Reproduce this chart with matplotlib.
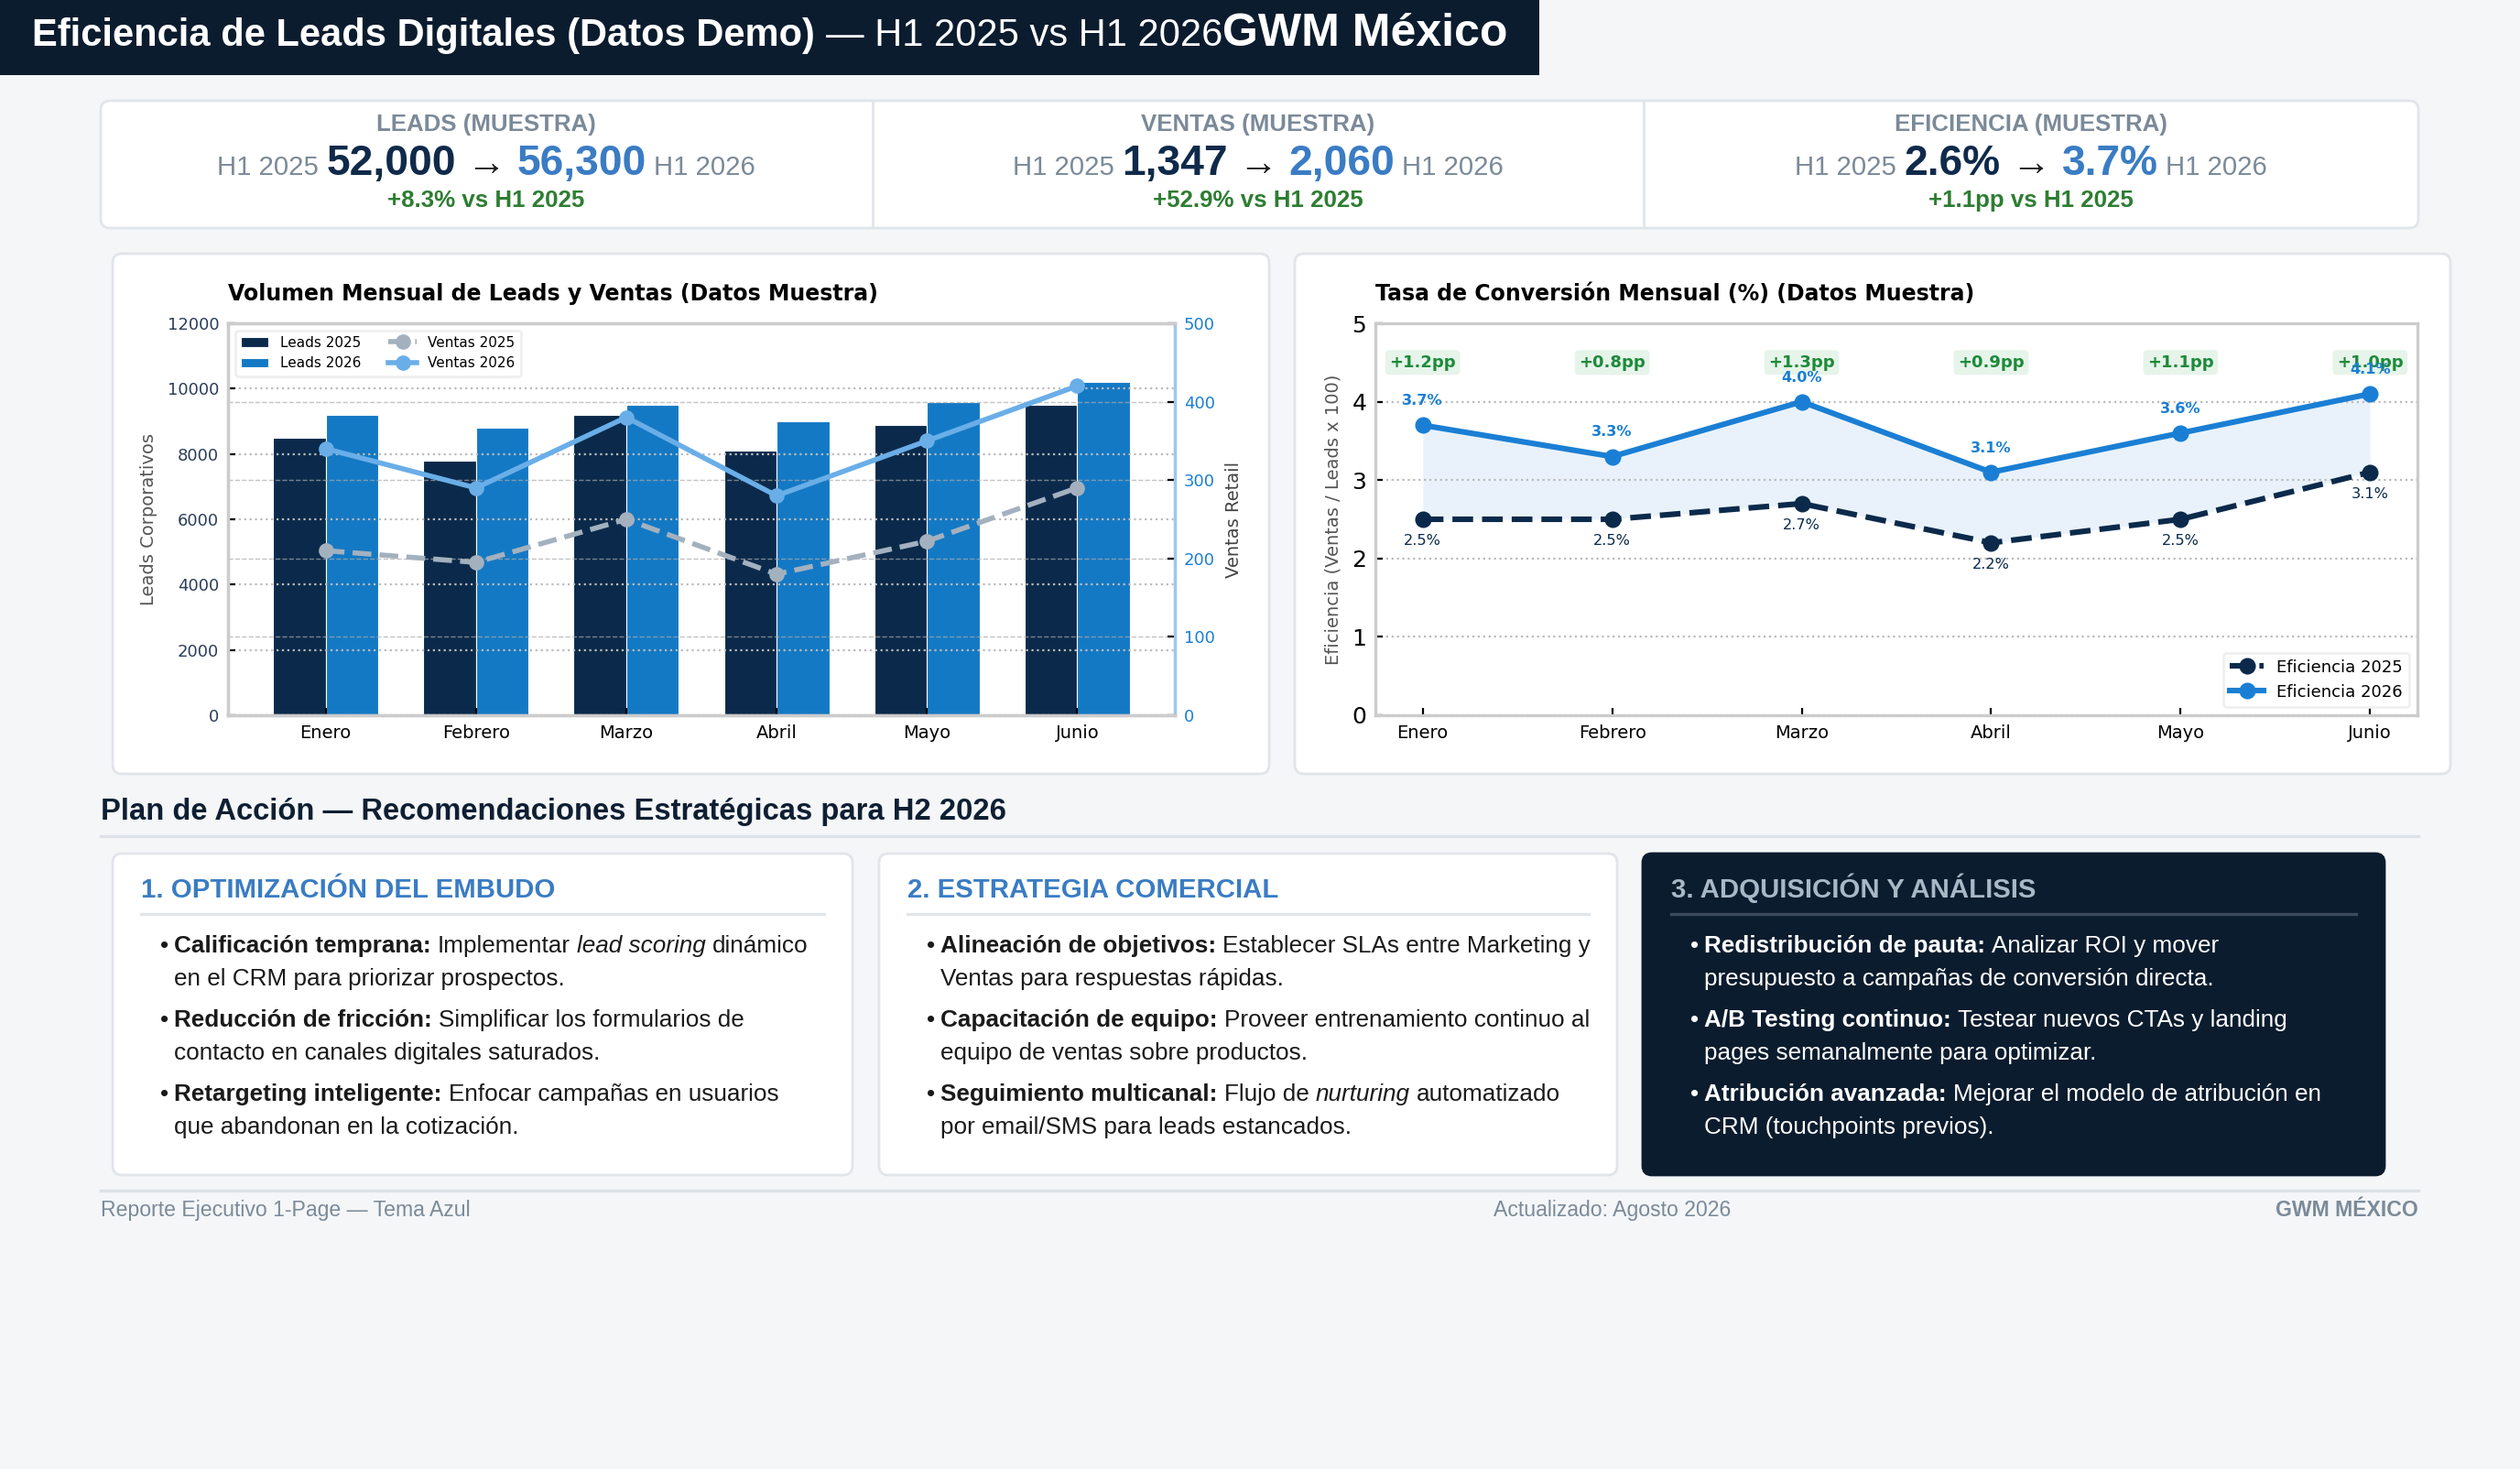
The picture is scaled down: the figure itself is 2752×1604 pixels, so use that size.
import numpy as np
import matplotlib
matplotlib.use("Agg")
import matplotlib.pyplot as plt
from matplotlib.patches import FancyBboxPatch, Rectangle

# ---------------- data (datos muestra) ----------------
meses = ["Enero", "Febrero", "Marzo", "Abril", "Mayo", "Junio"]
leads_2025 = [8500, 7800, 9200, 8100, 8900, 9500]
leads_2026 = [9200, 8800, 9500, 9000, 9600, 10200]
ventas_2025 = [210, 195, 250, 180, 222, 290]
ventas_2026 = [340, 290, 380, 280, 350, 420]

eff_2025 = [round(v / l * 100, 1) for v, l in zip(ventas_2025, leads_2025)]
eff_2026 = [round(v / l * 100, 1) for v, l in zip(ventas_2026, leads_2026)]
delta_pp = [round(b - a, 1) for a, b in zip(eff_2025, eff_2026)]

W, H = 2752, 1604
NAVY = "#0b1c2e"
BG = "#f4f6f8"
GRAY = "#7b8a99"
BLUE = "#3a7cc4"
GREEN = "#2e7d32"
HTML_FONT = "Liberation Sans"

fig = plt.figure(figsize=(W / 200, H / 200), dpi=200)
fig.patch.set_facecolor(BG)
bg = fig.add_axes([0, 0, 1, 1])
bg.set_zorder(-5)
bg.set_xlim(0, W)
bg.set_ylim(H, 0)
bg.axis("off")
renderer = fig.canvas.get_renderer()


def box(x0, y0, x1, y1, fc="white", ec="#e1e5ea", r=10, lw=1.0, z=1):
    bg.add_patch(FancyBboxPatch((x0, y0), x1 - x0, y1 - y0,
                                boxstyle=f"round,pad=0,rounding_size={r}",
                                fc=fc, ec=ec, lw=lw, zorder=z))


def measure(s, p):
    t1 = bg.text(0, 0, "|" + s + "|", **p)
    t2 = bg.text(0, 0, "||", **p)
    w = t1.get_window_extent(renderer).width - t2.get_window_extent(renderer).width
    t1.remove()
    t2.remove()
    return w


def runs(x, y, parts, ha="left"):
    widths = [measure(t, p) for t, p in parts]
    total = sum(widths)
    if ha == "center":
        x -= total / 2
    elif ha == "right":
        x -= total
    for (t, p), w in zip(parts, widths):
        lead = len(t) - len(t.lstrip(" "))
        off = measure(" " * lead, p) if lead else 0
        bg.text(x + off, y, t.strip(" "), ha="left", va="baseline", zorder=5, **p)
        x += w


def st(size, color, weight="normal", style="normal"):
    return dict(fontsize=size, color=color, fontweight=weight, fontstyle=style,
                family=HTML_FONT)


# ---------------- header ----------------
bg.add_patch(Rectangle((0, 0), 1681, 82, fc=NAVY, ec="none", zorder=1))
runs(35, 50, [("Eficiencia de Leads Digitales (Datos Demo)", st(15, "white", "bold")),
              (" — H1 2025 vs H1 2026", st(15, "white")),
              ("GWM México", st(18, "white", "bold"))])

# ---------------- KPI strip ----------------
box(110, 110, 2641, 249, r=10)
for xd in [953, 1795]:
    bg.plot([xd, xd], [112, 247], color="#e1e5ea", lw=1.0, zorder=2)

tot_l25, tot_l26 = sum(leads_2025), sum(leads_2026)
tot_v25, tot_v26 = sum(ventas_2025), sum(ventas_2026)
tot_e25, tot_e26 = tot_v25 / tot_l25 * 100, tot_v26 / tot_l26 * 100
kpis = [
    ("LEADS (MUESTRA)", f"{tot_l25:,}", f"{tot_l26:,}",
     f"+{(tot_l26 / tot_l25 - 1) * 100:.1f}% vs H1 2025"),
    ("VENTAS (MUESTRA)", f"{tot_v25:,}", f"{tot_v26:,}",
     f"+{(tot_v26 / tot_v25 - 1) * 100:.1f}% vs H1 2025"),
    ("EFICIENCIA (MUESTRA)", f"{tot_e25:.1f}%", f"{tot_e26:.1f}%",
     f"+{tot_e26 - tot_e25:.1f}pp vs H1 2025"),
]
centers = [531, 1374, 2218]
for cx, (lab, v0, v1, chg) in zip(centers, kpis):
    runs(cx, 143, [(lab, st(9.3, GRAY, "bold"))], ha="center")
    runs(cx, 191, [("H1 2025 ", st(10.6, GRAY)),
                   (v0, st(16.6, "#0f2a4a", "bold")),
                   (" → ", st(15.5, "#1a1a1a", "bold")),
                   (v1, st(16.6, BLUE, "bold")),
                   (" H1 2026", st(10.6, GRAY))], ha="center")
    runs(cx, 226, [(chg, st(9.3, GREEN, "bold"))], ha="center")

# ---------------- chart panels ----------------
box(123, 277, 1386, 845, r=10)
box(1414, 277, 2676, 845, r=10)


def add_ax(l, t, r, b):
    return fig.add_axes([l / W, 1 - b / H, (r - l) / W, (b - t) / H])


x = np.arange(len(meses))
bw = 0.35

# left chart: volumen
ax1 = add_ax(249, 353, 1283, 781)
ax1.bar(x - bw / 2, leads_2025, bw, color="#0b2a4b", edgecolor="white", lw=0.4, label="Leads 2025")
ax1.bar(x + bw / 2, leads_2026, bw, color="#1479c4", edgecolor="white", lw=0.4, label="Leads 2026")
ax1.set_ylim(0, 12000)
ax1.set_yticks(range(0, 12001, 2000))
ax1.set_xlim(-0.65, 5.65)
ax1.set_xticks(x)
ax1.set_xticklabels(meses, fontsize=7)
ax1.tick_params(axis="y", labelsize=6.5, labelcolor="#2c3e5a", length=3, direction="in")
ax1.tick_params(axis="x", length=3, direction="in")
ax1.set_ylabel("Leads Corporativos", fontsize=7, color="#555555")
ax1.yaxis.grid(True, linestyle=":", color="#bbbbbb", lw=0.8)
ax1.set_title("Volumen Mensual de Leads y Ventas (Datos Muestra)", fontsize=8.5,
              fontweight="bold", loc="left", pad=9)
for s in ax1.spines.values():
    s.set_color("#cccccc")
    s.set_linewidth(1.2)

ax2 = ax1.twinx()
ax2.plot(x, ventas_2025, color="#a3b1bf", lw=2, ls="--", marker="o", ms=5, label="Ventas 2025")
ax2.plot(x, ventas_2026, color="#6aaee8", lw=2, marker="o", ms=5, label="Ventas 2026")
ax2.set_ylim(0, 500)
ax2.set_yticks(range(0, 501, 100))
ax2.tick_params(axis="y", labelsize=6.5, labelcolor="#1a7fd4", length=3, direction="in")
ax2.set_ylabel("Ventas Retail", fontsize=7, color="#444444")
ax2.yaxis.grid(True, linestyle="--", color="#aaaaaa", lw=0.5, alpha=0.7)
for s in ax2.spines.values():
    s.set_color("#cccccc")
    s.set_linewidth(1.2)
ax2.spines["right"].set_color("#9cc8ee")
h1, l1 = ax1.get_legend_handles_labels()
h2, l2 = ax2.get_legend_handles_labels()
ax2.legend(h1 + h2, l1 + l2, loc="upper left", ncol=2, fontsize=5.5,
           frameon=True, framealpha=0.9, edgecolor="#eeeeee")

# right chart: conversion
ax3 = add_ax(1502, 353, 2640, 781)
ax3.fill_between(x, eff_2025, eff_2026, color="#dbeaf9", alpha=0.6, lw=0)
ax3.plot(x, eff_2025, color="#0b2a4b", lw=2.2, ls="--", marker="o", ms=5.5, label="Eficiencia 2025")
ax3.plot(x, eff_2026, color="#1a7fd4", lw=2.2, marker="o", ms=5.5, label="Eficiencia 2026")
for xi, d in zip(x, delta_pp):
    ax3.text(xi, 4.5, f"+{d:.1f}pp", ha="center", va="center", fontsize=6.5,
             fontweight="bold", color="#1e8a3a",
             bbox=dict(boxstyle="round,pad=0.25", fc="#e6f4ea", ec="none"))
for xi, a, b in zip(x, eff_2025, eff_2026):
    ax3.text(xi, b + 0.31, f"{b:.1f}%", ha="center", va="center", fontsize=5.8,
             fontweight="bold", color="#1a7fd4")
    ax3.text(xi, a - 0.28, f"{a:.1f}%", ha="center", va="center", fontsize=5.8,
             color="#0b2a4b")
ax3.set_ylim(0, 5)
ax3.set_xlim(-0.25, 5.25)
ax3.set_xticks(x)
ax3.set_xticklabels(meses, fontsize=7)
ax3.tick_params(axis="y", labelsize=9, length=3, direction="in")
ax3.tick_params(axis="x", length=3, direction="in")
ax3.set_ylabel("Eficiencia (Ventas / Leads x 100)", fontsize=7, color="#555555")
ax3.yaxis.grid(True, linestyle=":", color="#bbbbbb", lw=0.8)
ax3.set_title("Tasa de Conversión Mensual (%) (Datos Muestra)", fontsize=8.5,
              fontweight="bold", loc="left", pad=9)
ax3.legend(loc="lower right", fontsize=6.5, frameon=True, framealpha=0.9, edgecolor="#eeeeee")
for s in ax3.spines.values():
    s.set_color("#cccccc")
    s.set_linewidth(1.2)

# ---------------- plan de accion ----------------
runs(110, 895, [("Plan de Acción — Recomendaciones Estratégicas para H2 2026",
                 st(11.8, "#0f1f33", "bold"))])
bg.plot([110, 2641], [913, 913], color="#dde2e7", lw=1.2, zorder=2)

cards = [
    dict(x0=123, x1=931, dark=False, title="1. OPTIMIZACIÓN DEL EMBUDO",
         items=[[("Calificación temprana:", "b"), (" Implementar ", "n"), ("lead scoring", "i"),
                 (" dinámico", "n")],
                [("en el CRM para priorizar prospectos.", "n")],
                [("Reducción de fricción:", "b"), (" Simplificar los formularios de", "n")],
                [("contacto en canales digitales saturados.", "n")],
                [("Retargeting inteligente:", "b"), (" Enfocar campañas en usuarios", "n")],
                [("que abandonan en la cotización.", "n")]]),
    dict(x0=960, x1=1766, dark=False, title="2. ESTRATEGIA COMERCIAL",
         items=[[("Alineación de objetivos:", "b"), (" Establecer SLAs entre Marketing y", "n")],
                [("Ventas para respuestas rápidas.", "n")],
                [("Capacitación de equipo:", "b"), (" Proveer entrenamiento continuo al", "n")],
                [("equipo de ventas sobre productos.", "n")],
                [("Seguimiento multicanal:", "b"), (" Flujo de ", "n"), ("nurturing", "i"),
                 (" automatizado", "n")],
                [("por email/SMS para leads estancados.", "n")]]),
    dict(x0=1794, x1=2604, dark=True, title="3. ADQUISICIÓN Y ANÁLISIS",
         items=[[("Redistribución de pauta:", "b"), (" Analizar ROI y mover", "n")],
                [("presupuesto a campañas de conversión directa.", "n")],
                [("A/B Testing continuo:", "b"), (" Testear nuevos CTAs y landing", "n")],
                [("pages semanalmente para optimizar.", "n")],
                [("Atribución avanzada:", "b"), (" Mejorar el modelo de atribución en", "n")],
                [("CRM (touchpoints previos).", "n")]]),
]
line_y = [1040, 1076, 1121, 1157, 1202, 1238]
for c in cards:
    fc = NAVY if c["dark"] else "white"
    ec = NAVY if c["dark"] else "#e1e5ea"
    tc = "white" if c["dark"] else "#1a1a1a"
    ttl = "#a9b8c6" if c["dark"] else BLUE
    sep = "#3b4b5c" if c["dark"] else "#e1e5ea"
    box(c["x0"], 932, c["x1"], 1283, fc=fc, ec=ec, r=10)
    tx = c["x0"] + 31
    runs(tx, 980, [(c["title"], st(10.6, ttl, "bold"))])
    bg.plot([tx, c["x1"] - 31], [998, 998], color=sep, lw=1.2, zorder=2)
    for i, (yy, line) in enumerate(zip(line_y, c["items"])):
        if i % 2 == 0:
            runs(tx + 21, yy, [("•", st(9.4, tc))])
        parts = [(t, st(9.4, tc, "bold" if k == "b" else "normal",
                        "italic" if k == "i" else "normal")) for t, k in line]
        runs(tx + 36, yy, parts)

# ---------------- footer ----------------
bg.plot([110, 2641], [1300, 1300], color="#dde2e7", lw=1.2, zorder=2)
runs(110, 1328, [("Reporte Ejecutivo 1-Page — Tema Azul", st(8.3, GRAY))])
runs(1631, 1328, [("Actualizado: Agosto 2026", st(8.3, GRAY))])
runs(2641, 1328, [("GWM MÉXICO", st(8.3, GRAY, "bold"))], ha="right")

fig.savefig("out.png", dpi=200, facecolor=BG)
